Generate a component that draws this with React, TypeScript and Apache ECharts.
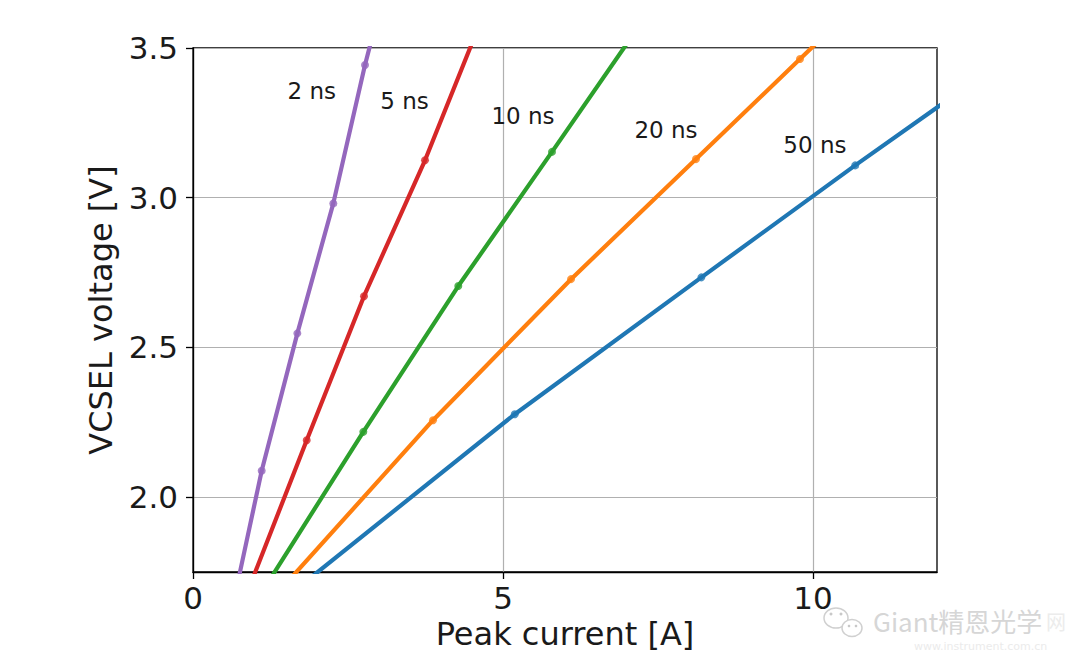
import React, { useEffect, useRef } from 'react';
import * as echarts from 'echarts';

// Pulse widths (series names) and matplotlib tab colours
const pulseLabels = ['2 ns', '5 ns', '10 ns', '20 ns', '50 ns'];
const pulseColors = ['#9467bd', '#d62728', '#2ca02c', '#ff7f0e', '#1f77b4'];

// Measured points [peak current A, VCSEL voltage V]
const markers2ns = [[1.108, 2.088], [1.683, 2.547], [2.263, 2.981], [2.774, 3.443]];
const markers5ns = [[1.834, 2.19], [2.758, 2.671], [3.742, 3.125]];
const markers10ns = [[2.747, 2.218], [4.279, 2.705], [5.79, 3.153]];
const markers20ns = [[3.871, 2.257], [6.097, 2.728], [8.113, 3.129], [9.79, 3.463]];
const markers50ns = [[5.19, 2.277], [8.2, 2.734], [10.68, 3.108]];

// Line extension points (beyond the axes, clipped)
const lineStarts = [[0.706, 1.7], [0.91, 1.7], [1.164, 1.7], [1.45, 1.7], [1.71, 1.7]];
const lineEnds = [[2.9, 3.544], [4.56, 3.547], [7.1, 3.545], [10.2, 3.545], [12.3, 3.345]];

// Text label anchors [x, y]
const labelPositions = [[1.915, 3.356], [3.411, 3.324], [5.323, 3.273], [7.629, 3.225], [10.03, 3.176]];

const xTicks = [0, 5, 10];
const yTicks = [2.0, 2.5, 3.0, 3.5];

const allMarkers = [markers2ns, markers5ns, markers10ns, markers20ns, markers50ns];

const FONT = 'DejaVu Sans';
const TEXT = '#1a1a1a';

export default function App() {
  const ref = useRef<HTMLDivElement>(null);
  useEffect(() => {
    if (!ref.current) return;
    const chart = echarts.init(ref.current, undefined, { renderer: 'svg' });
    const series: any[] = [];
    // draw in matplotlib order: 50 ns first
    for (let i = pulseLabels.length - 1; i >= 0; i--) {
      const pts = [lineStarts[i], ...allMarkers[i], lineEnds[i]];
      series.push({
        type: 'line',
        name: pulseLabels[i],
        data: pts,
        showSymbol: false,
        clip: true,
        lineStyle: { color: pulseColors[i], width: 4.2 },
        itemStyle: { color: pulseColors[i] },
        silent: true,
      });
      series.push({
        type: 'scatter',
        name: pulseLabels[i] + ' pts',
        data: allMarkers[i],
        symbol: 'circle',
        symbolSize: 8,
        itemStyle: { color: pulseColors[i] },
        clip: true,
        silent: true,
      });
    }
    series.push({
      type: 'scatter',
      name: 'labels',
      data: labelPositions.map((p, i) => ({ value: p, name: pulseLabels[i] })),
      symbol: 'circle',
      symbolSize: 0,
      itemStyle: { color: TEXT, opacity: 1 },
      label: {
        show: true,
        position: [0, 0],
        align: 'center',
        verticalAlign: 'middle',
        formatter: '{b}',
        fontFamily: FONT,
        fontSize: 23,
        color: TEXT,
        opacity: 1,
        textBorderWidth: 0,
      },
      silent: true,
      z: 5,
    });

    chart.setOption({
      animation: false,
      backgroundColor: '#ffffff',
      grid: {
        left: 193,
        top: 48,
        right: 143,
        bottom: 98,
        show: true,
        borderColor: '#000',
        borderWidth: 1.3,
      },
      xAxis: {
        type: 'value',
        min: 0,
        max: 12,
        name: 'Peak current [A]',
        nameLocation: 'middle',
        nameGap: 43,
        nameTextStyle: { fontFamily: FONT, fontSize: 32, color: TEXT },
        axisLine: { show: true, lineStyle: { color: '#000', width: 1.3 } },
        axisTick: { show: true, customValues: xTicks, length: 7, lineStyle: { color: '#000', width: 1.3 } },
        axisLabel: {
          customValues: xTicks,
          fontFamily: FONT,
          fontSize: 31,
          color: TEXT,
          margin: 10,
        },
        splitLine: { show: true, lineStyle: { color: '#b0b0b0', width: 1.2 } },
      },
      yAxis: {
        type: 'value',
        min: 1.75,
        max: 3.5,
        name: 'VCSEL voltage [V]',
        nameLocation: 'middle',
        nameGap: 76,
        nameTextStyle: { fontFamily: FONT, fontSize: 32, color: TEXT },
        axisLine: { show: true, lineStyle: { color: '#000', width: 1.3 } },
        axisTick: { show: true, customValues: yTicks, length: 7, lineStyle: { color: '#000', width: 1.3 } },
        axisLabel: {
          customValues: yTicks,
          formatter: (v: number) => v.toFixed(1),
          fontFamily: FONT,
          fontSize: 31,
          color: TEXT,
          margin: 15,
        },
        splitLine: { show: true, lineStyle: { color: '#b0b0b0', width: 1.2 } },
      },
      graphic: [
        {
          type: 'group',
          silent: true,
          children: [
            { type: 'ellipse', shape: { cx: 836, cy: 618, rx: 12, ry: 10 }, style: { fill: 'none', stroke: '#d0d0d0', lineWidth: 1.5 } },
            { type: 'ellipse', shape: { cx: 852, cy: 628, rx: 10, ry: 8.5 }, style: { fill: '#fff', stroke: '#d0d0d0', lineWidth: 1.5 } },
            { type: 'circle', shape: { cx: 831, cy: 614, r: 1.5 }, style: { fill: '#c8c8c8' } },
            { type: 'circle', shape: { cx: 841, cy: 614, r: 1.5 }, style: { fill: '#c8c8c8' } },
            { type: 'circle', shape: { cx: 849, cy: 626, r: 1.3 }, style: { fill: '#c8c8c8' } },
            { type: 'circle', shape: { cx: 856, cy: 626, r: 1.3 }, style: { fill: '#c8c8c8' } },
            {
              type: 'text',
              x: 873,
              y: 607,
              style: { text: 'Giant精恩光学', fontFamily: 'Noto Sans CJK SC', fontSize: 26, fill: '#d6d6d6' },
            },
            {
              type: 'text',
              x: 1046,
              y: 611,
              style: { text: '网', fontFamily: 'Noto Sans CJK SC', fontSize: 20, fill: '#ececec' },
            },
            {
              type: 'text',
              x: 914,
              y: 641,
              style: { text: 'www.instrument.com.cn', fontFamily: FONT, fontSize: 11, fill: '#ebebeb' },
            },
          ],
        },
      ],
      series,
    });
    return () => chart.dispose();
  }, []);
  return <div ref={ref} style={{ position: 'absolute', left: 0, top: 0, width: 1080, height: 670 }} />;
}
